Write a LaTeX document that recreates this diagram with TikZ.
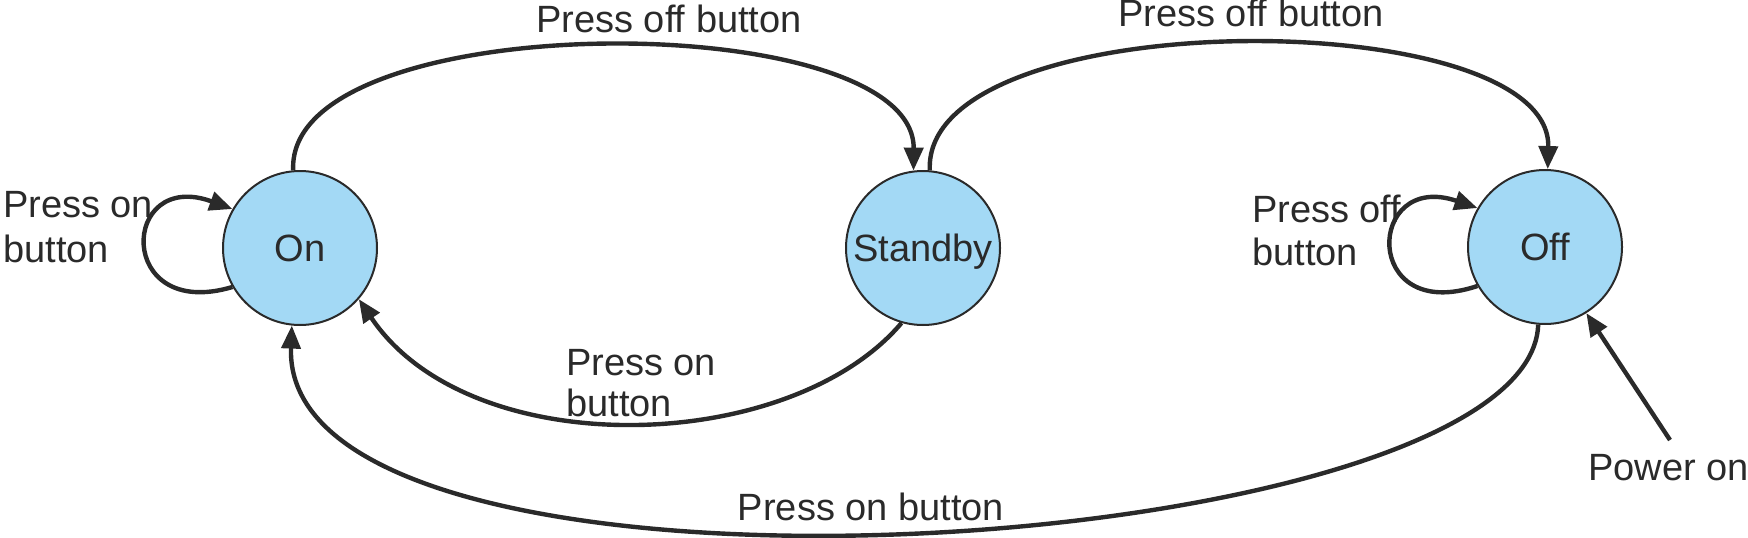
\documentclass[tikz,border=0pt]{standalone}
\usepackage{fontspec}
\setmainfont{Liberation Sans}
\usetikzlibrary{arrows.meta}
\definecolor{ink}{HTML}{2A2A2A}
\definecolor{stfill}{HTML}{A3D9F5}
\begin{document}
\begin{tikzpicture}[x=1pt,y=-1pt,
  state/.style={circle, draw=ink, line width=2pt, fill=stfill, minimum size=154pt, inner sep=0pt, text=ink, font=\fontsize{38}{44}\selectfont, text height=27pt, text depth=0pt},
  lbl/.style={inner sep=0pt, text=ink, align=left},
  conn/.style={draw=ink, line width=4.4pt, -{Triangle[length=23pt,width=19pt]}}
]
\useasboundingbox (0,0) rectangle (1748,538);

\node[state] (on)  at (300,248)  {On};
\node[state] (sb)  at (923,248)  {Standby};
\node[state] (off) at (1545,247) {Off};

% transitions
\draw[conn] (on.95) .. controls (285,5) and (915,5) .. (sb.97);
\draw[conn] (sb.85) .. controls (922,2) and (1552,2) .. (off.88);
\draw[conn] (sb.254) .. controls (790,455) and (470,465) .. (on.-41);
\draw[conn] (off.265) .. controls (1530,560) and (280,640) .. (on.264);
\draw[conn] (on.210) .. controls (115,322) and (120,168) .. (on.150);
\draw[conn] (off.210) .. controls (1361,325) and (1366,170) .. (off.150);
\coordinate (pw) at (1670,440);
\draw[conn] (pw) -- (off.-58);

% labels (base anchor = baseline of last line)
\node[lbl, anchor=base, font=\fontsize{38}{44}\selectfont] (l1) at (669,32) {Press off button};
\node[lbl, anchor=base, font=\fontsize{38}{44}\selectfont] (l2) at (1251,27) {Press off button};
\node[lbl, anchor=base west, font=\fontsize{38}{45}\selectfont] (l3) at (3,262) {Press on\\button};
\node[lbl, anchor=base west, font=\fontsize{38}{41}\selectfont] (l4) at (566,416) {Press on\\button};
\node[lbl, anchor=base west, font=\fontsize{38}{43}\selectfont] (l5) at (1252,265) {Press off\\button};
\node[lbl, anchor=base, font=\fontsize{38}{44}\selectfont] (l6) at (871,520) {Press on button};
\node[lbl, anchor=base west, font=\fontsize{38}{44}\selectfont] (l7) at (1588,480) {Power on};
\end{tikzpicture}
\end{document}
